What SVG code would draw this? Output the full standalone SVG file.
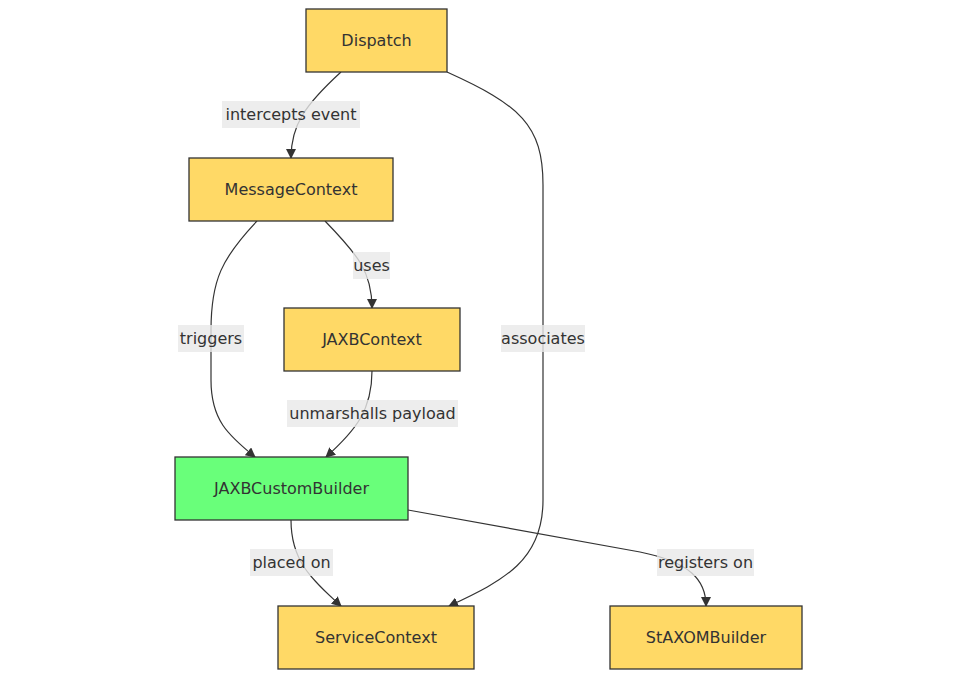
<svg xmlns="http://www.w3.org/2000/svg" width="978" height="679" viewBox="0 0 978 679">
  <style>
    .node rect { fill: #ffd966; stroke: #333333; stroke-width: 1.3; }
    .node.green rect { fill: #69ff7a; }
    .node text { font-family: "DejaVu Sans", "Noto Sans", sans-serif; font-size: 16px; fill: #333333; text-anchor: middle; dominant-baseline: central; }
    .edge { fill: none; stroke: #333333; stroke-width: 1.2; marker-end: url(#arrow); }
    .elabel rect { fill: #e8e8e8; fill-opacity: 0.8; }
    .elabel text { font-family: "DejaVu Sans", "Noto Sans", sans-serif; font-size: 16px; fill: #333333; text-anchor: middle; dominant-baseline: central; }
  </style>
  <defs>
    <marker id="arrow" viewBox="0 0 10 10" refX="9" refY="5" markerWidth="10" markerHeight="10" markerUnits="userSpaceOnUse" orient="auto">
      <path d="M0,0 L10,5 L0,10 z" fill="#333333"/>
    </marker>
  </defs>
  <rect width="978" height="679" fill="#ffffff"/>

  <g id="connectors">
    <path class="edge" d="M341,72 C305,105 291,125 291,158"/>
    <path class="edge" d="M447,72 C520,105 543,125 543,185 L543,500 C543,560 505,580 449,606"/>
    <path class="edge" d="M257,221 C222,258 211,280 211,330 L211,380 C211,420 228,435 255,457"/>
    <path class="edge" d="M325,221 C358,255 372,272 372,308"/>
    <path class="edge" d="M372,371 C372,410 356,430 326,457"/>
    <path class="edge" d="M291,520 C291,560 310,578 341,606"/>
    <path class="edge" d="M408,510 L640,552 C690,562 706,580 706,606"/>
  </g>

  <g id="edge-labels">
    <g class="elabel"><rect x="222" y="101" width="138" height="27"/><text x="291" y="114.5">intercepts event</text></g>
    <g class="elabel"><rect x="501" y="325" width="84" height="27"/><text x="543" y="338.5">associates</text></g>
    <g class="elabel"><rect x="178" y="325" width="66" height="27"/><text x="211" y="338.5">triggers</text></g>
    <g class="elabel"><rect x="353" y="252" width="37" height="27"/><text x="371.5" y="265.5">uses</text></g>
    <g class="elabel"><rect x="287" y="400" width="171" height="27"/><text x="372.5" y="413.5">unmarshalls payload</text></g>
    <g class="elabel"><rect x="250" y="549" width="83" height="27"/><text x="291.5" y="562.5">placed on</text></g>
    <g class="elabel"><rect x="657" y="549" width="97" height="27"/><text x="705.5" y="562.5">registers on</text></g>
  </g>

  <g id="Dispatch" class="node"><rect x="306" y="9" width="141" height="63"/><text x="376.5" y="40.5">Dispatch</text></g>
  <g id="MessageContext" class="node"><rect x="189" y="158" width="204" height="63"/><text x="291" y="189.5">MessageContext</text></g>
  <g id="JAXBContext" class="node"><rect x="284" y="308" width="176" height="63"/><text x="372" y="339.5">JAXBContext</text></g>
  <g id="JAXBCustomBuilder" class="node green"><rect x="175" y="457" width="233" height="63"/><text x="291.5" y="488.5">JAXBCustomBuilder</text></g>
  <g id="ServiceContext" class="node"><rect x="278" y="606" width="196" height="63"/><text x="376" y="637.5">ServiceContext</text></g>
  <g id="StAXOMBuilder" class="node"><rect x="610" y="606" width="192" height="63"/><text x="706" y="637.5">StAXOMBuilder</text></g>
</svg>
